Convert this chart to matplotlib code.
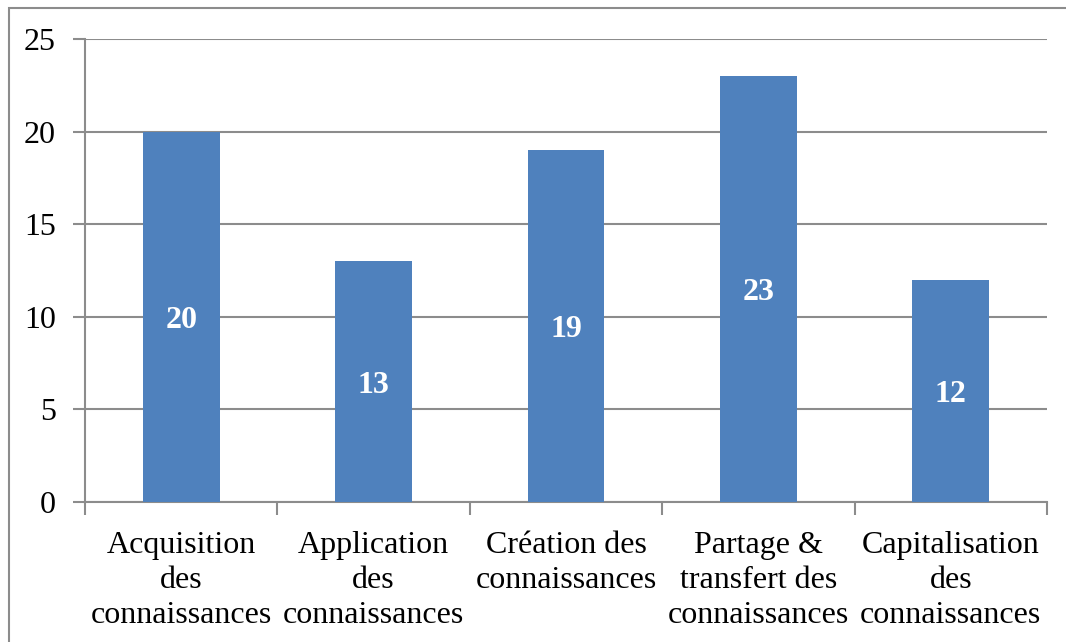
import matplotlib.pyplot as plt
from matplotlib.patches import Rectangle

categories = ['Acquisition\ndes\nconnaissances', 'Application\ndes\nconnaissances',
              'Création des\nconnaissances', 'Partage &\ntransfert des\nconnaissances',
              'Capitalisation\ndes\nconnaissances']
values = [20, 13, 19, 23, 12]
yticks = [0, 5, 10, 15, 20, 25]

plt.rcParams['font.family'] = ['Liberation Serif', 'DejaVu Serif']

W, H = 1066, 642
fig = plt.figure(figsize=(W / 100, H / 100), dpi=100)
ax = fig.add_axes([85 / W, 1 - 502 / H, (1047 - 85) / W, (502 - 39) / H])

x = range(len(values))
bars = ax.bar(x, values, width=0.4, color='#4F81BD', zorder=3)
for i, v in enumerate(values):
    ax.text(i, v / 2, str(v), ha='center', va='center_baseline', color='white',
            fontsize=23, fontweight='bold', zorder=4)

ax.set_xlim(-0.5, len(values) - 0.5)
ax.set_ylim(0, 25)
ax.set_yticks(yticks)
ax.yaxis.grid(True, color='#8c8c8c', lw=1.5, zorder=0)
ax.tick_params(axis='y', length=9, width=1.5, color='#8c8c8c', labelsize=23, pad=12)

# category labels centred, ticks at category boundaries
ax.set_xticks(list(x))
ax.set_xticklabels(categories, fontsize=23, linespacing=1.27)
ax.tick_params(axis='x', length=0, pad=21)
ax.set_xticks([i - 0.5 for i in range(len(values) + 1)], minor=True)
ax.tick_params(axis='x', which='minor', length=9, width=1.5, color='#8c8c8c')

for s in ['top', 'right']:
    ax.spines[s].set_visible(False)
for s in ['left', 'bottom']:
    ax.spines[s].set_color('#8c8c8c')
    ax.spines[s].set_linewidth(1.5)

# outer chart border (only top/left visible in the crop)
fig.patches.append(Rectangle((9 / W, -0.1), 1.2, 1.1 - 8 / H, transform=fig.transFigure,
                             fill=False, edgecolor='#8c8c8c', lw=1.5))

fig.savefig('out.png', dpi=100)
